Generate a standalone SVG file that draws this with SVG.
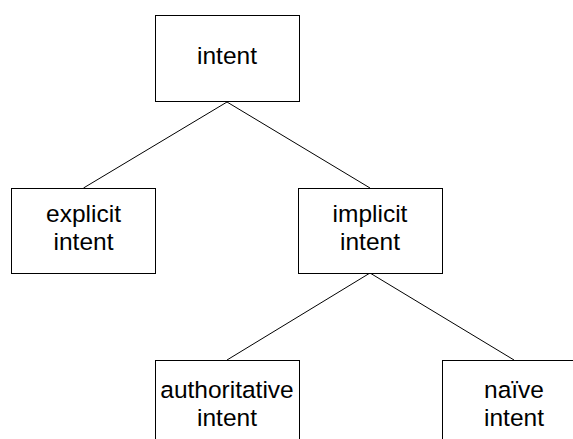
<svg xmlns="http://www.w3.org/2000/svg" width="573" height="439" viewBox="0 0 573 439">
  <style>
    .box { fill: #ffffff; stroke: #000000; stroke-width: 1; }
    .edge { stroke: #000000; stroke-width: 1; fill: none; }
    .label { font-family: "Liberation Sans", Arial, sans-serif; font-size: 24.5px; fill: #000000; text-anchor: middle; }
  </style>
  <rect width="573" height="439" fill="#ffffff"/>

  <!-- tree edges: parent bottom centre to child top centre -->
  <g id="connectors">
    <line class="edge" x1="227" y1="102" x2="83.5" y2="188"/>
    <line class="edge" x1="227" y1="102" x2="370" y2="188"/>
    <line class="edge" x1="370" y1="273" x2="227" y2="360"/>
    <line class="edge" x1="370" y1="273" x2="514" y2="360"/>
  </g>

  <g id="intent">
    <rect class="box" x="155.5" y="15.5" width="144" height="86"/>
    <text class="label" x="227" y="64">intent</text>
  </g>

  <g id="explicit-intent">
    <rect class="box" x="11.5" y="188.5" width="144" height="85"/>
    <text class="label" x="83.5" y="222">explicit</text>
    <text class="label" x="83.5" y="250">intent</text>
  </g>

  <g id="implicit-intent">
    <rect class="box" x="298.5" y="188.5" width="144" height="85"/>
    <text class="label" x="370" y="222">implicit</text>
    <text class="label" x="370" y="250">intent</text>
  </g>

  <!-- lower row runs past the bottom / right edge of the canvas -->
  <g id="authoritative-intent">
    <rect class="box" x="155.5" y="360.5" width="144" height="95"/>
    <text class="label" x="227" y="398">authoritative</text>
    <text class="label" x="227" y="426">intent</text>
  </g>

  <g id="naive-intent">
    <rect class="box" x="442.5" y="360.5" width="144" height="95"/>
    <text class="label" x="514" y="398">naïve</text>
    <text class="label" x="514" y="426">intent</text>
  </g>
</svg>
